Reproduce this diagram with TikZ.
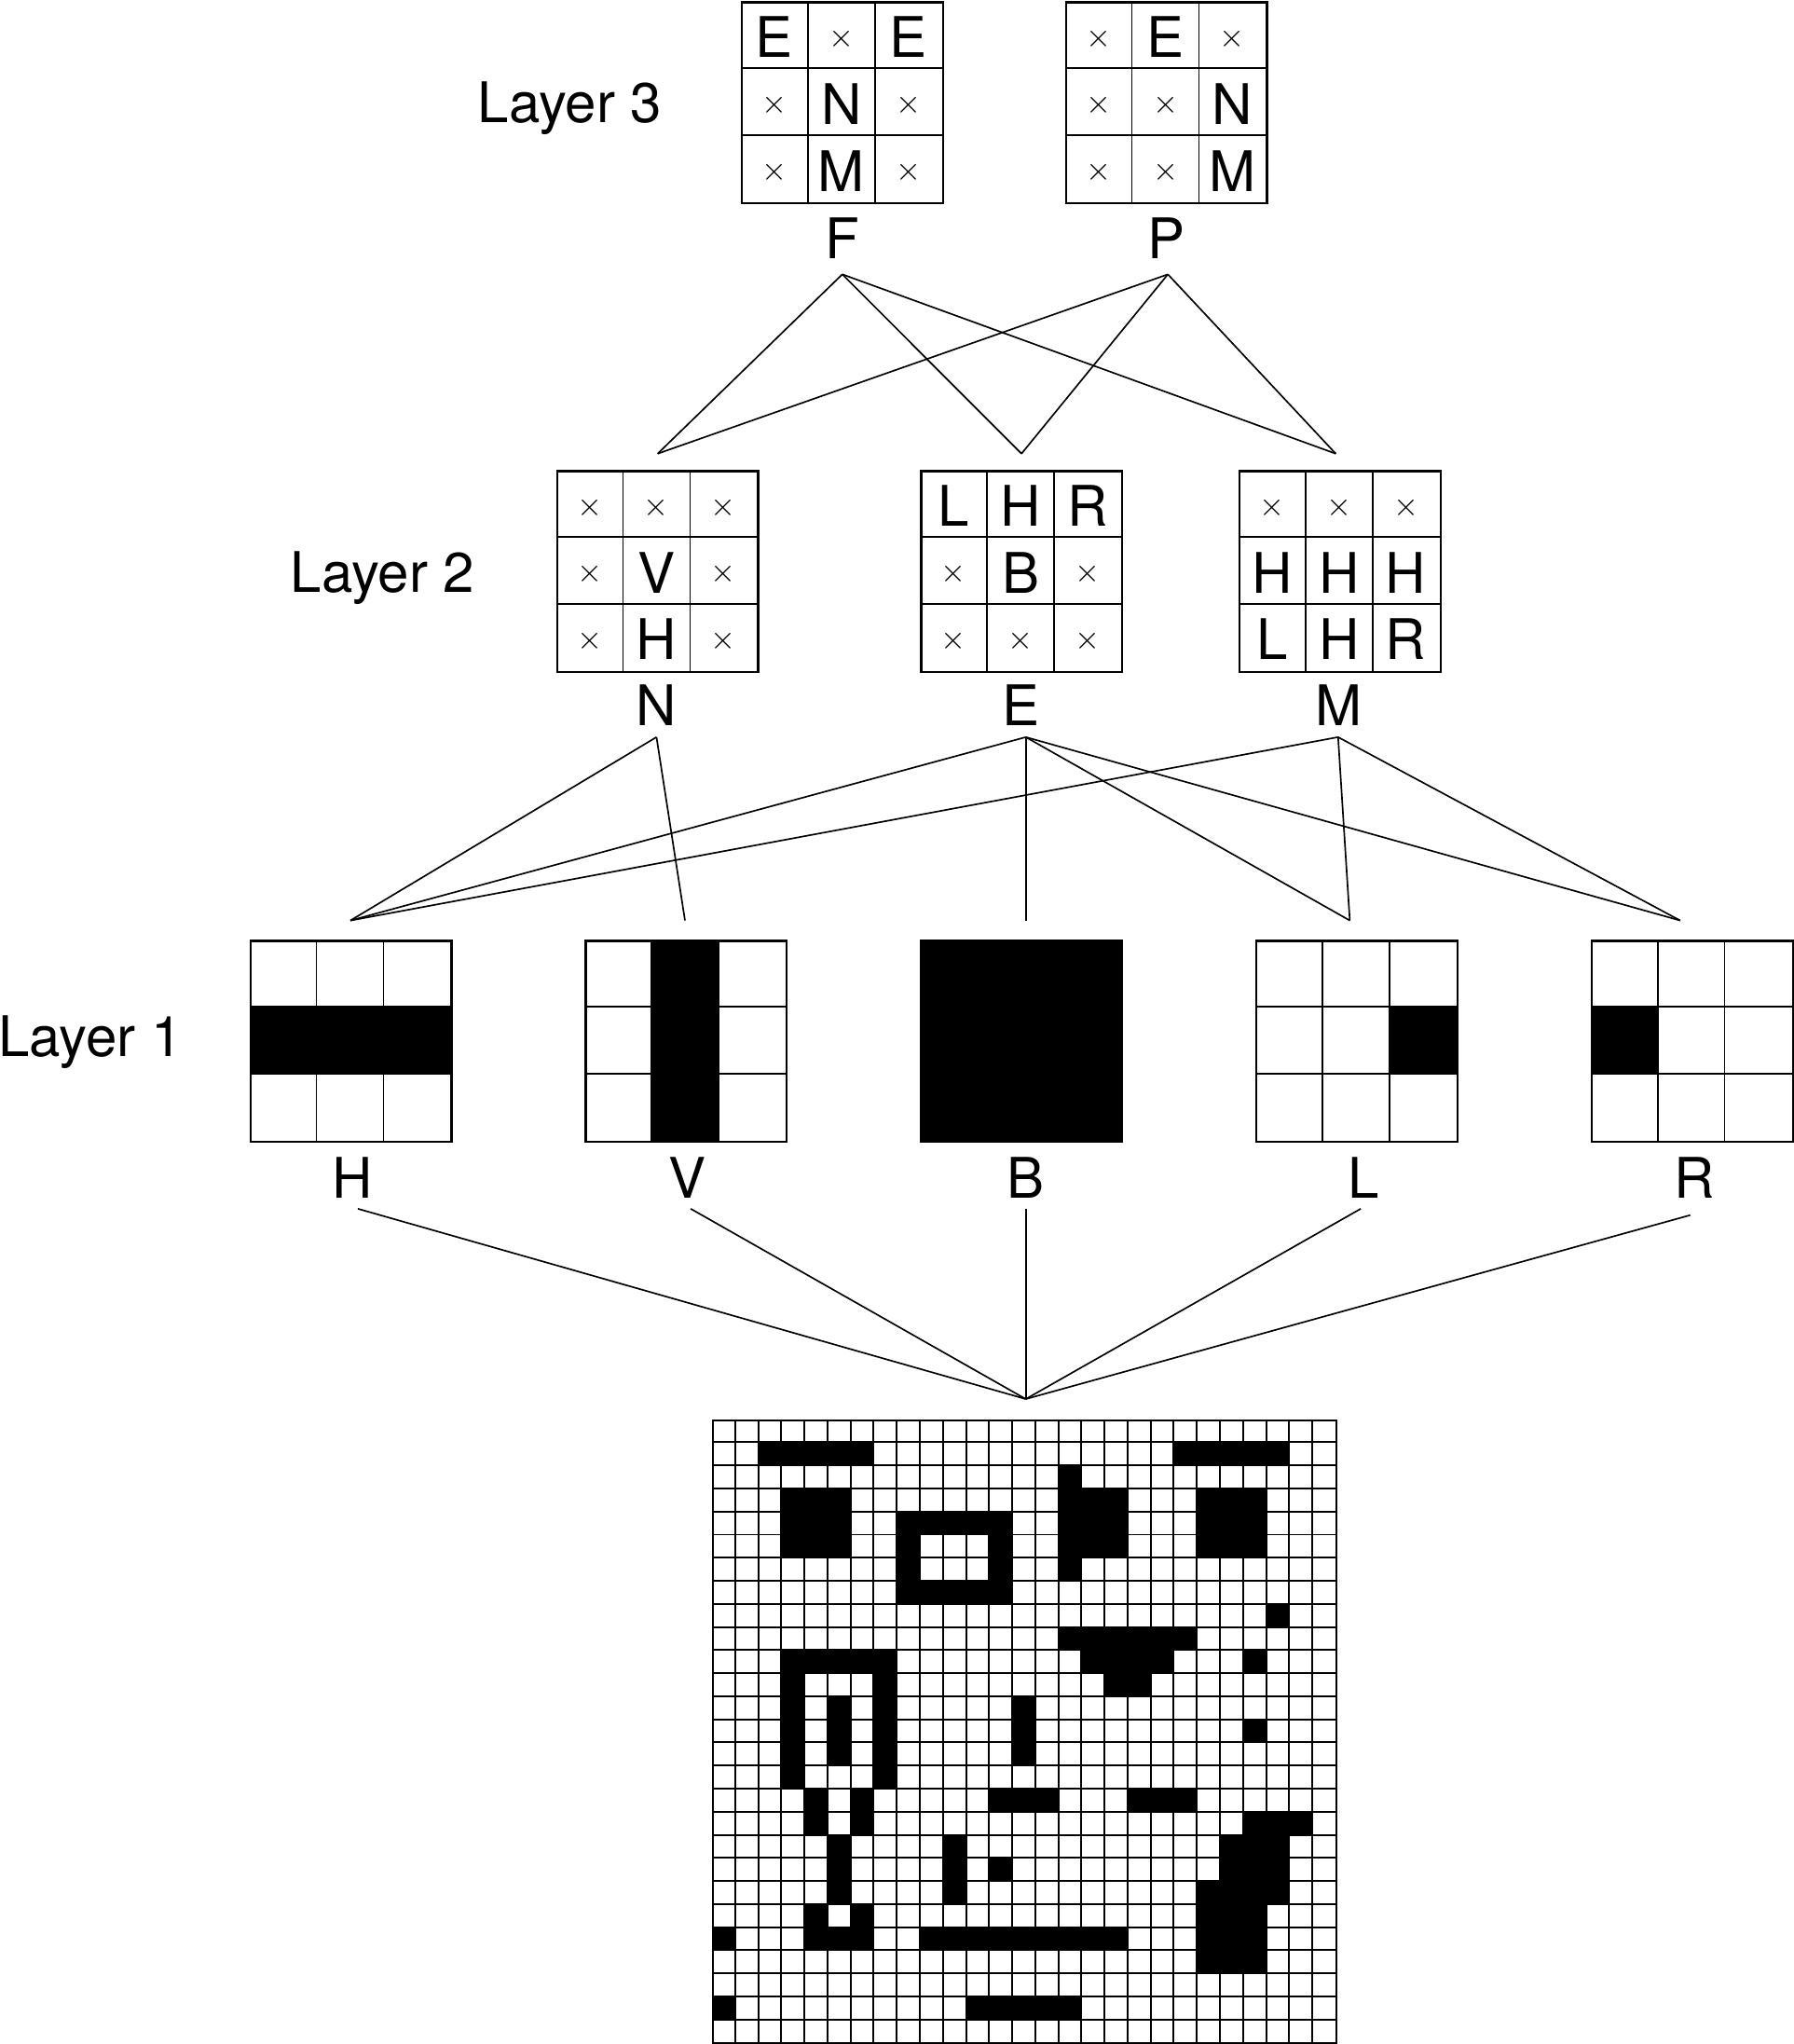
\documentclass[tikz,border=0pt]{standalone}
\usepackage{fontspec}
\setmainfont{TeX Gyre Heros}
\newcommand\cs{51.5}
\newcommand\gx{547.2}
\newcommand\gy{1090.5}
\newcommand\gsz{17.74}
\tikzset{
  big/.style={font=\fontsize{43}{50}\selectfont, inner sep=0pt},
  cross/.style={font=\fontsize{27}{32}\selectfont, inner sep=0pt},
  gridin/.style={line width=1.2pt},
  gridbox/.style={draw, line width=1.7pt, inner sep=0pt, minimum width=154.5pt, minimum height=154.5pt},
  conn/.style={line width=1.2pt},
  fine/.style={line width=1.4pt},
  lbl/.style={font=\fontsize{43}{50}\selectfont, inner sep=0pt, anchor=base},
}
\newcommand\letgrid[4]{%
  \foreach \k in {1,2}{%
    \draw[gridin] ({#2+\cs*\k},#3) -- ({#2+\cs*\k},{#3+3*\cs});
    \draw[gridin] (#2,{#3+\cs*\k}) -- ({#2+3*\cs},{#3+\cs*\k});
  }
  \node[gridbox, anchor=north west] (#1) at (#2,#3) {};
  \foreach \t [count=\n from 0] in {#4}{%
    \pgfmathtruncatemacro\rr{div(\n,3)}%
    \pgfmathtruncatemacro\cc{mod(\n,3)}%
    \if x\t
      \node[cross] (#1-\n) at ({#2+\cs*(\cc+0.5)},{#3+\cs*(\rr+0.5)+3}) {$\times$};
    \else
      \node[big] (#1-\n) at ({#2+\cs*(\cc+0.5)},{#3+\cs*(\rr+0.5)+1.5}) {\t};
    \fi
  }
}
\newcommand\patgrid[4]{%
  \foreach \pc/\pr in {#4}{\fill ({#2+\cs*\pc},{#3+\cs*\pr}) rectangle ++(\cs,\cs);}
  \foreach \k in {1,2}{%
    \draw[gridin] ({#2+\cs*\k},#3) -- ({#2+\cs*\k},{#3+3*\cs});
    \draw[gridin] (#2,{#3+\cs*\k}) -- ({#2+3*\cs},{#3+\cs*\k});
  }
  \node[gridbox, anchor=north west] (#1) at (#2,#3) {};
}
\begin{document}
\begin{tikzpicture}[x=1pt,y=-1pt]
\useasboundingbox (0,0) rectangle (1378,1570.6);

% ---- Layer 3
\node[lbl] (layer3) at (438,94.3) {Layer 3};
\letgrid{gF}{569.3}{0.9}{E,x,E,x,N,x,x,M,x}
\letgrid{gP}{818.4}{0.9}{x,E,x,x,x,N,x,x,M}
\node[lbl] (lF) at (647,198.4) {F};
\node[lbl] (lP) at (896.6,198.4) {P};

% ---- Layer 2
\node[lbl] (layer2) at (294,455.4) {Layer 2};
\letgrid{gN}{427.3}{361.1}{x,x,x,x,V,x,x,H,x}
\letgrid{gE}{707}{361.1}{L,H,R,x,B,x,x,x,x}
\letgrid{gM}{951.7}{361.1}{x,x,x,H,H,H,L,H,R}
\node[lbl] (lN) at (504.5,557.6) {N};
\node[lbl] (lE) at (784.9,557.6) {E};
\node[lbl] (lM) at (1028.9,557.6) {M};

% ---- Layer 1
\node[lbl] (layer1) at (69.5,811.6) {Layer 1};
\patgrid{gH}{191.6}{722.1}{0/1,1/1,2/1}
\patgrid{gV}{449.3}{722.1}{1/0,1/1,1/2}
\patgrid{gB}{707}{722.1}{0/0,1/0,2/0,0/1,1/1,2/1,0/2,1/2,2/2}
\patgrid{gL}{964.7}{722.1}{2/1}
\patgrid{gR}{1222.4}{722.1}{0/1}
\node[lbl] (lH) at (270.7,920.4) {H};
\node[lbl] (lV) at (528.2,920.4) {V};
\node[lbl] (lB) at (788.3,920.4) {B};
\node[lbl] (lL) at (1047.6,920.4) {L};
\node[lbl] (lR) at (1302.4,920.4) {R};

% ---- input image
\foreach \r/\a/\b in {1/2/6,1/20/24,2/15/15,
  3/3/5,3/15/17,3/21/23,
  4/3/5,4/8/12,4/15/17,4/21/23,
  5/3/5,5/8/8,5/12/12,5/15/17,5/21/23,
  6/8/8,6/12/12,6/15/15,
  7/8/12,8/24/24,9/15/20,
  10/3/7,10/16/19,10/23/23,
  11/3/3,11/7/7,11/17/18,
  12/3/3,12/5/5,12/7/7,12/13/13,
  13/3/3,13/5/5,13/7/7,13/13/13,13/23/23,
  14/3/3,14/5/5,14/7/7,14/13/13,
  15/3/3,15/7/7,
  16/4/4,16/6/6,16/12/14,16/18/20,
  17/4/4,17/6/6,17/23/25,
  18/5/5,18/10/10,18/22/24,
  19/5/5,19/10/10,19/12/12,19/22/24,
  20/5/5,20/10/10,20/21/24,
  21/4/4,21/6/6,21/21/23,
  22/0/0,22/4/6,22/9/17,22/21/23,
  23/21/23,
  25/0/0,25/11/15}
  {\fill ({\gx+\gsz*\a},{\gy+\gsz*\r}) rectangle ({\gx+\gsz*(\b+1)},{\gy+\gsz*(\r+1)});}
\foreach \k in {1,...,26}{%
  \draw[fine] ({\gx+\gsz*\k},\gy) -- ({\gx+\gsz*\k},{\gy+27*\gsz});
  \draw[fine] (\gx,{\gy+\gsz*\k}) -- ({\gx+27*\gsz},{\gy+\gsz*\k});
}
\node[draw, line width=1.6pt, inner sep=0pt, minimum width=478.98pt, minimum height=478.98pt, anchor=north west] (img) at (\gx,\gy) {};

% ---- connection points
\coordinate (F-out) at (647.3,210.8);
\coordinate (P-out) at (897.5,210.8);
\coordinate (N-in) at (505.4,348.6);
\coordinate (E-in) at (785,348.6);
\coordinate (M-in) at (1026.5,348.6);
\coordinate (N-out) at (504.5,566.4);
\coordinate (E-out) at (788.3,566.4);
\coordinate (M-out) at (1028.3,566.4);
\coordinate (H-in) at (269.3,707.3);
\coordinate (V-in) at (526.4,707.3);
\coordinate (B-in) at (788.3,707.3);
\coordinate (L-in) at (1037.3,707.3);
\coordinate (R-in) at (1291.2,707.3);
\coordinate (H-out) at (275,928.8);
\coordinate (V-out) at (530.8,928.8);
\coordinate (B-out) at (788.3,928.8);
\coordinate (L-out) at (1045.7,928.8);
\coordinate (R-out) at (1298.9,933.7);
\coordinate (img-in) at (788.3,1075);

% ---- connectors
\foreach \s in {F-out,P-out}{\foreach \t in {N-in,E-in,M-in}{\draw[conn] (\s) -- (\t);}}
\foreach \t in {H-in,V-in}{\draw[conn] (N-out) -- (\t);}
\foreach \t in {H-in,B-in,L-in,R-in}{\draw[conn] (E-out) -- (\t);}
\foreach \t in {H-in,L-in,R-in}{\draw[conn] (M-out) -- (\t);}
\foreach \s in {H-out,V-out,B-out,L-out,R-out}{\draw[conn] (\s) -- (img-in);}
\end{tikzpicture}
\end{document}
